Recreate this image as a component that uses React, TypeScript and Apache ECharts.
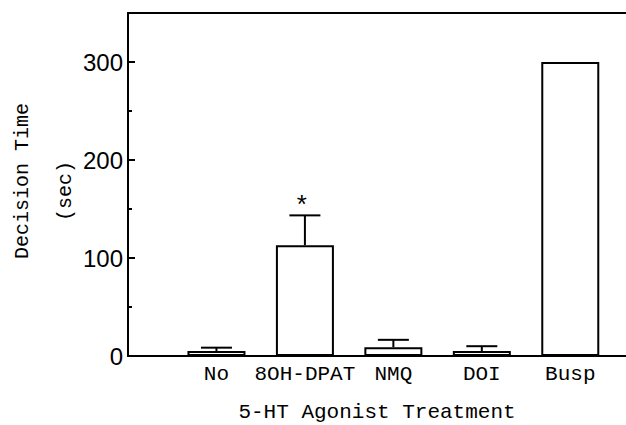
import React, { useEffect, useRef } from "react";
import * as echarts from "echarts";

const categories = ["No", "8OH-DPAT", "NMQ", "DOI", "Busp"];
const means = [5, 113, 9, 5, 300];
const errors = [3.5, 30.5, 7.5, 5, 0];
const annotations = ["", "*", "", "", ""];
const yTitleLines = ["Decision Time", "(sec)"];
const xTitle = "5-HT Agonist Treatment";

const MONO = '"Liberation Mono", "DejaVu Sans Mono", monospace';
const NARROW = '"Liberation Sans Narrow", "Arial Narrow", "Liberation Sans", sans-serif';

export default function App() {
  const ref = useRef<HTMLDivElement>(null);

  useEffect(() => {
    document.body.style.margin = "0";
    if (!ref.current) return;
    const chart = echarts.init(ref.current, null, { renderer: "svg" });
    const xMax = 5.63;
    const option: any = {
      animation: false,
      backgroundColor: "#fff",
      grid: { left: 128, right: 0, top: 13, bottom: 69, outerBoundsMode: "none", containLabel: false },
      xAxis: [
        {
          type: "value",
          min: 0,
          max: xMax,
          interval: 1,
          position: "bottom",
          axisLine: { show: true, onZero: false, lineStyle: { color: "#000", width: 2 } },
          axisTick: { show: false },
          splitLine: { show: false },
          axisLabel: {
            formatter: (v: number) =>
              Number.isInteger(v) && v >= 1 && v <= categories.length ? categories[v - 1] : "",
            color: "#000",
            fontFamily: MONO,
            fontSize: 21,
            margin: 8,
          },
          name: xTitle,
          nameLocation: "middle",
          nameGap: 46,
          nameTextStyle: { color: "#000", fontFamily: MONO, fontSize: 21 },
        },
        {
          type: "value",
          min: 0,
          max: xMax,
          position: "top",
          axisLine: { show: true, onZero: false, lineStyle: { color: "#000", width: 2 } },
          axisTick: { show: false },
          axisLabel: { show: false },
          splitLine: { show: false },
        },
      ],
      yAxis: [
        {
          type: "value",
          min: 0,
          max: 350,
          interval: 100,
          axisLine: { show: true, onZero: false, lineStyle: { color: "#000", width: 2 } },
          axisTick: { show: true, inside: true, length: 7, lineStyle: { color: "#000", width: 2 } },
          axisLabel: {
            formatter: (v: number) => (v % 100 === 0 ? String(v) : ""),
            color: "#000",
            fontFamily: NARROW,
            fontSize: 24,
            margin: 5,
          },
          splitLine: { show: false },
        },
        {
          type: "value",
          min: 0,
          max: 350,
          interval: 50,
          position: "left",
          axisLine: { show: false, onZero: false },
          axisTick: { show: true, inside: true, length: 4, lineStyle: { color: "#000", width: 2 } },
          axisLabel: { show: false },
          splitLine: { show: false },
        },
      ],
      graphic: [
        {
          type: "text",
          x: 22,
          y: 181,
          rotation: Math.PI / 2,
          style: {
            text: yTitleLines[0],
            fill: "#000",
            font: `20px ${MONO}`,
            align: "center",
            verticalAlign: "middle",
          },
        },
        {
          type: "text",
          x: 65,
          y: 191,
          rotation: Math.PI / 2,
          style: {
            text: yTitleLines[1],
            fill: "#000",
            font: `20px ${MONO}`,
            align: "center",
            verticalAlign: "middle",
          },
        },
      ],
      series: [
        {
          type: "bar",
          xAxisIndex: 0,
          yAxisIndex: 0,
          barWidth: 58,
          data: means.map((m, i) => [i + 1, m]),
          itemStyle: { color: "#fff", borderColor: "#000", borderWidth: 2 },
          z: 2,
        },
        {
          type: "custom",
          xAxisIndex: 0,
          yAxisIndex: 0,
          z: 3,
          data: means.map((m, i) => [i + 1, m, errors[i], i]),
          renderItem: (params: any, api: any) => {
            const x = api.value(0);
            const m = api.value(1);
            const e = api.value(2);
            const idx = api.value(3);
            const base = api.coord([x, m]);
            const top = api.coord([x, m + e]);
            const children: any[] = [];
            if (e > 0) {
              children.push({
                type: "line",
                shape: { x1: base[0], y1: base[1], x2: top[0], y2: top[1] },
                style: { stroke: "#000", lineWidth: 2 },
              });
              children.push({
                type: "line",
                shape: { x1: top[0] - 15.5, y1: top[1], x2: top[0] + 15.5, y2: top[1] },
                style: { stroke: "#000", lineWidth: 2 },
              });
            }
            const ann = annotations[idx];
            if (ann) {
              children.push({
                type: "text",
                x: top[0] - 3,
                y: top[1] - 8,
                style: {
                  text: ann,
                  fill: "#000",
                  font: `26px ${MONO}`,
                  align: "center",
                  verticalAlign: "middle",
                },
              });
            }
            return { type: "group", children };
          },
        },
      ],
    };
    chart.setOption(option);
    return () => chart.dispose();
  }, []);

  return <div ref={ref} style={{ width: 626, height: 425 }} />;
}
